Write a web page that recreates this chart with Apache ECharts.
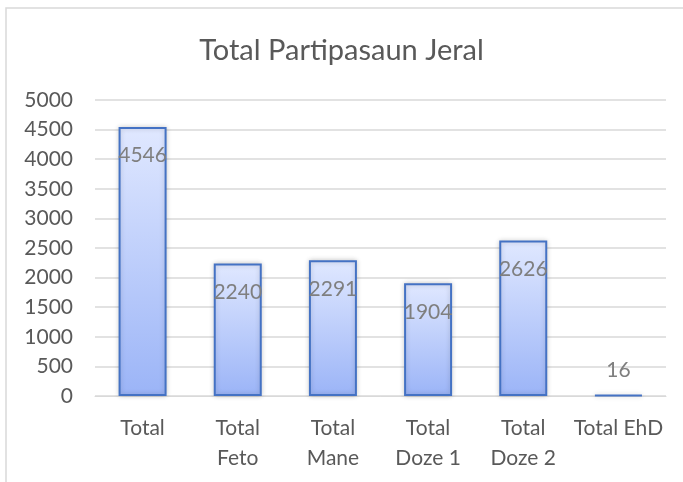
<!DOCTYPE html>
<html>
<head>
<meta charset="utf-8">
<script src="https://cdn.jsdelivr.net/npm/echarts@6/dist/echarts.min.js"></script>
<style>
  html, body { margin: 0; padding: 0; background: #fff; }
  #chart { width: 683px; height: 482px; }
</style>
</head>
<body>
<div id="chart"></div>
<script>
// data
let categories = ['Total', 'Total\nFeto', 'Total\nMane', 'Total\nDoze 1', 'Total\nDoze 2', 'Total EhD'];
let values = [4546, 2240, 2291, 1904, 2626, 16];
let yTicks = { min: 0, max: 5000, interval: 500 };

let chart = echarts.init(document.getElementById('chart'));

let fill = new echarts.graphic.LinearGradient(0, 0, 0, 1, [
    { offset: 0, color: '#e0e8ff' },
    { offset: 1, color: '#9bb4f7' }
]);

let barData = values.map(function (v) {
    let item = { value: v };
    if (v < 300) {
        item.label = { position: 'top', distance: 14 };
    }
    return item;
});

let option = {
    backgroundColor: '#fff',
    textStyle: { fontFamily: 'Lato' },
    graphic: [ {
        type: 'rect',
        shape: { x: 6, y: 8, width: 700, height: 500 },
        style: { fill: 'none', stroke: '#d9d9d9', lineWidth: 1.5 },
        silent: true
    } ],
    title: {
        text: 'Total Partipasaun Jeral',
        left: 'center',
        top: 31,
        textStyle: { fontSize: 29, fontWeight: 'normal', color: '#595959', fontFamily: 'Lato' }
    },
    grid: { left: 95, right: 17, top: 100, bottom: 86 },
    xAxis: {
        type: 'category',
        data: categories,
        axisLine: { show: true, lineStyle: { color: '#d9d9d9' } },
        axisTick: { show: false },
        axisLabel: { color: '#595959', fontSize: 21, margin: 17, lineHeight: 30, interval: 0 }
    },
    yAxis: {
        type: 'value',
        min: yTicks.min,
        max: yTicks.max,
        interval: yTicks.interval,
        axisLine: { show: false },
        axisTick: { show: false },
        axisLabel: {
            color: '#595959', fontSize: 21, margin: 22,
            formatter: function (v) { return String(v); }
        },
        splitLine: { lineStyle: { color: '#d9d9d9', width: 1.5 } }
    },
    series: [ {
        type: 'bar',
        data: barData,
        barWidth: 48,
        itemStyle: {
            color: fill,
            borderColor: '#4472c4',
            borderWidth: 2,
            shadowColor: 'rgba(0,0,0,0.2)',
            shadowBlur: 5
        },
        label: {
            show: true,
            position: 'insideTop',
            distance: 18,
            color: '#7f7f7f',
            fontSize: 21,
            fontFamily: 'Lato'
        }
    } ]
};
chart.setOption(option);
</script>
</body>
</html>
